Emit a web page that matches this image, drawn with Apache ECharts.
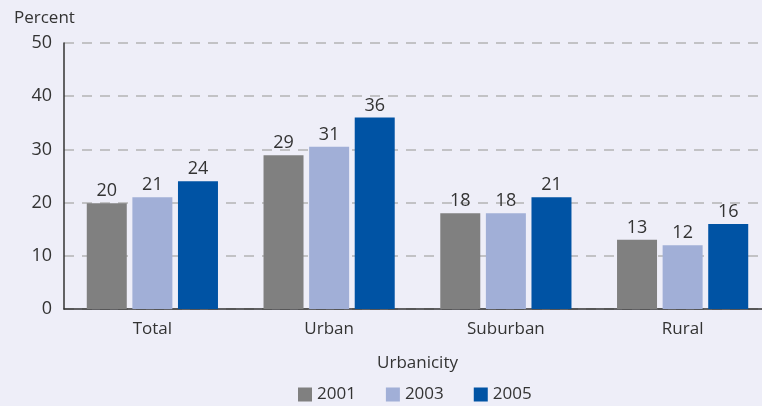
<!DOCTYPE html>
<html>
<head>
<meta charset="utf-8">
<script src="https://cdn.jsdelivr.net/npm/echarts@6/dist/echarts.min.js"></script>
<style>
html, body { margin: 0; padding: 0; background: #eeeef8; }
#chart { width: 762px; height: 406px; }
</style>
</head>
<body>
<div id="chart"></div>
<script>
var categories = ['Total', 'Urban', 'Suburban', 'Rural'];
var years = ['2001', '2003', '2005'];
var v2001 = [19.9, 28.9, 18.0, 13.0];
var v2003 = [21.0, 30.5, 18.0, 12.0];
var v2005 = [24.0, 36.0, 21.0, 16.0];
var l2001 = [20, 29, 18, 13];
var l2003 = [21, 31, 18, 12];
var l2005 = [24, 36, 21, 16];
var colors = ['#808080', '#a1afd7', '#0053a4'];

var font = 'Open Sans';
var dom = echarts.init(document.getElementById('chart'));

function mk(name, vals, labs, color) {
  return {
    name: name,
    type: 'bar',
    barWidth: 40,
    barGap: '14%',
    itemStyle: { color: color },
    label: {
      show: true, position: 'top', distance: 3,
      color: '#333', fontFamily: font, fontSize: 18,
      formatter: function (p) { return labs[p.dataIndex]; }
    },
    data: vals
  };
}

var option = {
  backgroundColor: '#eeeef8',
  animation: false,
  textStyle: { fontFamily: font },
  title: {
    text: 'Percent', left: 9, top: 5,
    textStyle: { fontFamily: font, fontSize: 17, fontWeight: 'normal', color: '#333' }
  },
  legend: {
    data: years, top: 381, left: 293,
    itemWidth: 14, itemHeight: 14, itemGap: 30,
    icon: 'rect',
    textStyle: { fontFamily: font, fontSize: 17, color: '#333' }
  },
  grid: { left: 64, width: 707, top: 43, bottom: 97, containLabel: false, outerBoundsMode: 'none' },
  xAxis: {
    type: 'category', data: categories,
    name: 'Urbanicity', nameLocation: 'middle', nameGap: 46,
    nameTextStyle: { fontFamily: font, fontSize: 17, color: '#333' },
    axisLine: { lineStyle: { color: '#333', width: 1.5 } },
    axisTick: { show: false },
    axisLabel: { fontFamily: font, fontSize: 17, color: '#333', margin: 12 }
  },
  yAxis: {
    type: 'value', min: 0, max: 50, interval: 10,
    axisLine: { show: true, lineStyle: { color: '#333', width: 1.5 } },
    axisTick: { show: false },
    axisLabel: { fontFamily: font, fontSize: 18, color: '#333', margin: 12 },
    splitLine: { lineStyle: { color: '#b4b4b4', type: [10, 8], width: 1.5 } }
  },
  series: [
    mk(years[0], v2001, l2001, colors[0]),
    mk(years[1], v2003, l2003, colors[1]),
    mk(years[2], v2005, l2005, colors[2])
  ]
};

dom.setOption(option);
</script>
</body>
</html>
